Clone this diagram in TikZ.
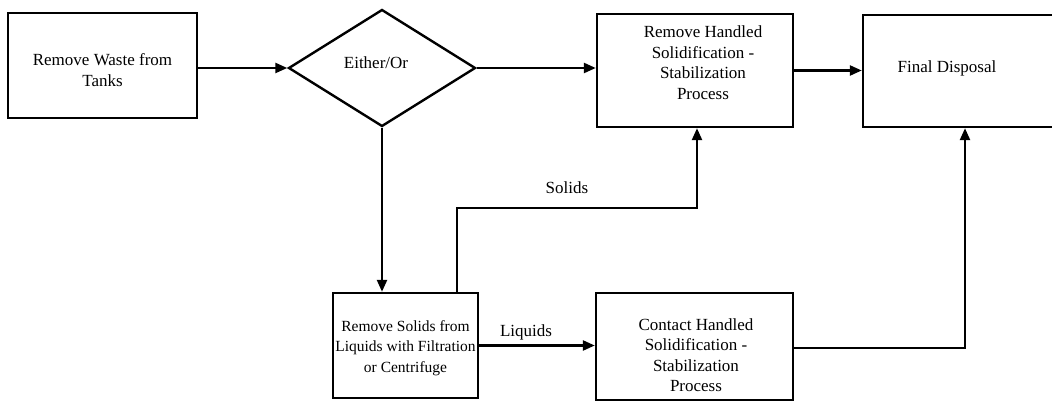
\documentclass[tikz,border=0pt]{standalone}
\usepackage{fontspec}
\setmainfont{Liberation Serif}
\usetikzlibrary{shapes.geometric,arrows.meta}
\begin{document}
\begin{tikzpicture}[x=1pt,y=-1pt,
  boxshape/.style={draw,line width=2.4pt,inner sep=0pt,rectangle},
  txt/.style={align=center,inner sep=0pt,font=\fontsize{17}{20.5}\selectfont},
  conn/.style={line width=2.4pt,-{Triangle[length=12pt,width=10pt]}}
]
\fill[white] (0,0) rectangle (1052,403);
\useasboundingbox (0,0) rectangle (1052,403);

% boxes
\node[boxshape,minimum width=189pt,minimum height=105pt] (b1) at (102.5,65.5) {};
\node[txt] (t1) at (102.5,70) {Remove Waste from\\Tanks};

\node[draw,line width=2.4pt,diamond,inner sep=0pt,minimum width=187pt,minimum height=117pt] (dia) at (382,68) {};
\node[txt] (t2) at (376,63) {Either/Or};

\node[boxshape,minimum width=196pt,minimum height=113pt] (b2) at (695,70.5) {};
\node[txt] (t3) at (703,62.5) {Remove Handled\\Solidification -\\Stabilization\\Process};

\node[boxshape,minimum width=260pt,minimum height=112pt] (fd) at (993,71) {};
\node[txt] (t4) at (947,68) {Final Disposal};

\node[boxshape,minimum width=145pt,minimum height=105pt] (rs) at (405.5,345.5) {};
\node[txt,font=\fontsize{15.5}{20.5}\selectfont] (t5) at (405.5,348) {Remove Solids from\\Liquids with Filtration\\or Centrifuge};

\node[boxshape,minimum width=197pt,minimum height=107pt] (ch) at (694.5,346.5) {};
\node[txt] (t6) at (696,355) {Contact Handled\\Solidification -\\Stabilization\\Process};

% labels
\node[txt] (lsol) at (567,188) {Solids};
\node[txt] (lliq) at (526,332) {Liquids};

% helper coordinates
\coordinate (sU) at (457,208);
\coordinate (sR) at (697,208);
\coordinate (cR) at (965,348);

% connectors
\draw[conn] (dia.west -| b1.east) -- (dia.west);
\draw[conn] (dia.east) -- (dia.east -| b2.west);
\draw[conn] (b2.east) -- (b2.east -| fd.west);
\draw[conn] (dia.south) -- (dia.south |- rs.north);
\draw[conn] (sU |- rs.north) -- (sU) -- (sR) -- (sR |- b2.south);
\draw[conn] (rs.east) -- (rs.east -| ch.west);
\draw[conn] (ch.east |- cR) -- (cR) -- (cR |- fd.south);
\end{tikzpicture}
\end{document}
